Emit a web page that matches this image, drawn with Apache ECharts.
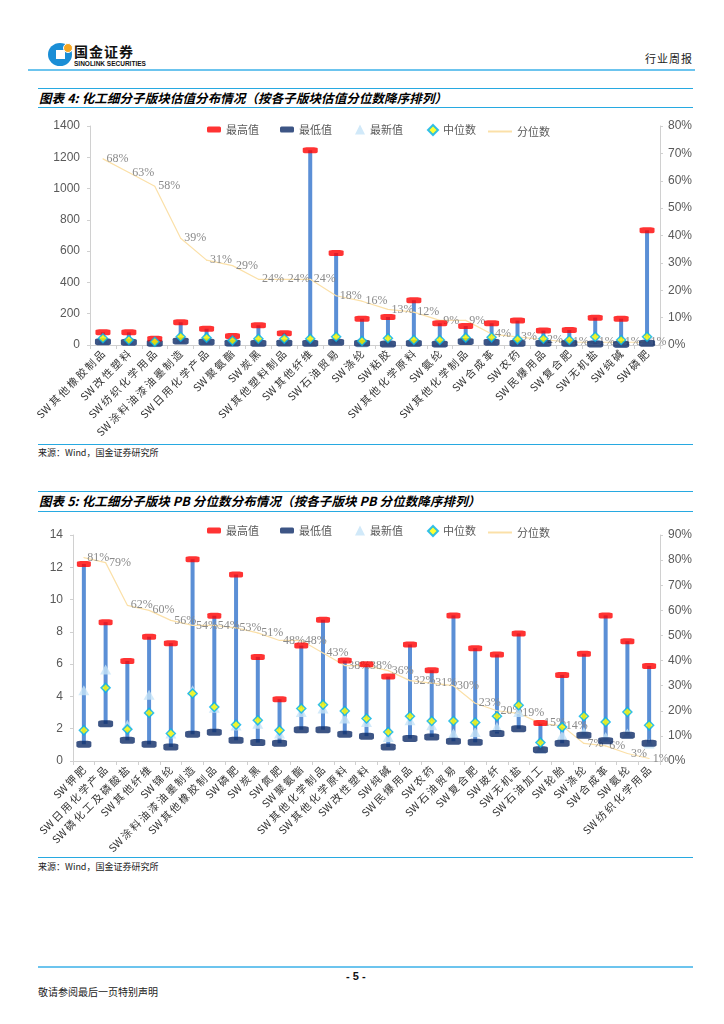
<!DOCTYPE html>
<html><head><meta charset="utf-8">
<script src="https://cdn.jsdelivr.net/npm/echarts@6/dist/echarts.min.js"></script>
<style>
html,body{margin:0;padding:0;background:#fff;}
#page{position:relative;width:724px;height:1024px;overflow:hidden;font-family:"Noto Sans CJK SC","Noto Sans",sans-serif;}
.abs{position:absolute;line-height:1;}
.hline{position:absolute;height:0;}
.title{position:absolute;left:39px;font-size:12.5px;line-height:19px;font-weight:bold;font-style:italic;color:#000;letter-spacing:0.1px;white-space:nowrap;}
.src{position:absolute;left:38px;font-size:9px;color:#222;white-space:nowrap;}
</style>
</head><body>
<div id="page">
  <!-- header -->
  <div class="abs" style="left:48px;top:43px;width:24px;height:23px;border-radius:50%;background:#1a8ed6;"></div>
  <div class="abs" style="left:56px;top:50px;width:9px;height:9px;background:#fff;"></div>
  <div class="abs" style="left:63px;top:43px;width:8px;height:8px;border-radius:50%;background:#f5a623;border:1px solid #fff;"></div>
  <div class="abs" style="left:74px;top:44px;font-size:14px;font-weight:bold;color:#111;letter-spacing:1px;">国金证券</div>
  <div class="abs" style="left:74px;top:60.5px;font-size:6.5px;font-weight:bold;color:#111;font-family:'Liberation Sans',Arial,sans-serif;">SINOLINK SECURITIES</div>
  <div class="abs" style="left:645px;top:53px;font-size:11px;color:#222;letter-spacing:1px;">行业周报</div>
  <div class="hline" style="left:28px;top:69px;width:667px;border-top:2px solid #6cc4ee;"></div>

  <!-- chart 1 title -->
  <div class="hline" style="left:38px;top:88px;width:655px;border-top:1.5px solid #27a9e1;"></div>
  <div class="title" style="top:88px;">图表 4: 化工细分子版块估值分布情况（按各子版块估值分位数降序排列）</div>
  <div class="hline" style="left:38px;top:107px;width:655px;border-top:1.5px solid #27a9e1;"></div>
  <div id="c1" class="abs" style="left:30px;top:115px;width:680px;height:328px;"></div>
  <div class="hline" style="left:38px;top:444px;width:655px;border-top:1.5px solid #27a9e1;"></div>
  <div class="src" style="top:446px;">来源：Wind，国金证券研究所</div>

  <!-- chart 2 title -->
  <div class="hline" style="left:38px;top:491px;width:655px;border-top:1.5px solid #27a9e1;"></div>
  <div class="title" style="top:491px;">图表 5: 化工细分子版块 PB 分位数分布情况（按各子版块 PB 分位数降序排列）</div>
  <div class="hline" style="left:38px;top:511px;width:655px;border-top:1.5px solid #27a9e1;"></div>
  <div id="c2" class="abs" style="left:30px;top:515px;width:680px;height:340px;"></div>
  <div class="hline" style="left:38px;top:857px;width:655px;border-top:1.5px solid #27a9e1;"></div>
  <div class="src" style="top:860px;">来源：Wind，国金证券研究所</div>

  <!-- footer -->
  <div class="hline" style="left:38px;top:966px;width:655px;border-top:2px solid #6cc4ee;"></div>
  <div class="abs" style="left:346px;top:971px;font-size:11px;font-weight:bold;color:#111;font-family:'Liberation Sans',Arial,sans-serif;">- 5 -</div>
  <div class="abs" style="left:38px;top:987px;font-size:10px;color:#222;">敬请参阅最后一页特别声明</div>
</div>
<script>
// ---------- Chart 1 data (PE valuation) ----------
var cats1 = ['SW其他橡胶制品','SW改性塑料','SW纺织化学用品','SW涂料油漆油墨制造','SW日用化学产品','SW聚氨酯','SW炭黑','SW其他塑料制品','SW其他纤维','SW石油贸易','SW涤纶','SW粘胶','SW其他化学原料','SW氨纶','SW其他化学制品','SW合成革','SW农药','SW民爆用品','SW复合肥','SW无机盐','SW纯碱','SW磷肥'];
var max1 = [81,81,40,145,104,58,126,75,1245,588,168,179,286,139,121,139,156,92,96,175,168,733];
var min1 = [21,17,11,26,19,13,11,13,11,17,11,6,11,6,23,17,11,11,11,6,4,11];
var last1 = [35,28,18,40,38,20,25,30,28,40,15,25,22,18,35,30,20,20,18,40,12,30];
var med1 = [43,32,21,53,47,28,40,40,40,53,26,43,32,32,47,49,36,40,32,53,32,53];
var pct1 = [68,63,58,39,31,29,24,24,24,18,16,13,12,9,9,4,3,2,1,1,1,1];
var leftTicks1 = {min:0,max:1400,interval:200};
var rightTicks1 = {min:0,max:80,interval:10};

// ---------- Chart 2 data (PB percentile) ----------
var cats2 = ['SW钾肥','SW日用化学产品','SW磷化工及磷酸盐','SW其他纤维','SW锦纶','SW涂料油漆油墨制造','SW其他橡胶制品','SW磷肥','SW炭黑','SW氮肥','SW聚氨酯','SW其他化学制品','SW其他化学原料','SW改性塑料','SW纯碱','SW民爆用品','SW农药','SW石油贸易','SW复合肥','SW玻纤','SW无机盐','SW石油加工','SW轮胎','SW涤纶','SW合成革','SW氨纶','SW纺织化学用品'];
var max2 = [12.2,8.6,6.2,7.7,7.3,12.5,9.0,11.55,6.45,3.83,7.15,8.75,6.22,6.0,5.23,7.22,5.62,9.02,6.99,6.6,7.9,2.36,5.33,6.64,9.02,7.42,5.89];
var min2 = [1.03,2.3,1.28,1.03,0.87,1.65,1.78,1.28,1.14,1.1,1.94,1.94,1.65,1.54,0.87,1.39,1.49,1.22,1.16,1.7,2.0,0.7,1.1,1.59,1.26,1.59,1.1];
var last2 = [4.38,5.67,2.25,4.1,1.7,4.38,3.3,2.2,2.3,1.7,3.04,3.25,2.63,2.42,1.49,2.52,2.21,1.7,1.8,2.1,3.04,0.77,1.59,1.8,1.49,1.7,1.08];
var med2 = [1.9,4.53,1.96,2.98,1.7,4.18,3.35,2.25,2.52,1.9,3.25,3.49,3.1,2.63,1.8,2.77,2.48,2.48,2.38,2.77,3.45,1.14,2.1,2.77,2.42,3.04,2.21];
var pct2 = [81,79,62,60,56,54,54,53,51,48,48,43,38,38,36,32,31,30,23,20,19,15,14,7,6,3,1];
var leftTicks2 = {min:0,max:14,interval:2};
var rightTicks2 = {min:0,max:90,interval:10};

var names = ['最高值','最低值','最新值','中位数','分位数'];

function spaced(s) {
  // widen spacing between the Chinese glyphs like the original report font
  var rest = s.replace(/^SW/, '');
  return 'SW\u2009' + rest.split('').join('\u2009');
}

function buildOption(cats, mx, mn, lt, md, pc, lt1, rt1, grid, legTop, markerW) {
  var range = mx.map(function(v,i){ return +(v - mn[i]).toFixed(3); });
  var legText = {color:'#595959', fontSize:11, fontFamily:'Noto Sans CJK SC'};
  function leg(name, left, w, h) {
    return {data:[name], left:left, top:legTop, itemWidth:w, itemHeight:h, itemGap:0, textStyle:legText, selectedMode:false};
  }
  var axisNum = {color:'#595959', fontSize:12, fontFamily:'Liberation Sans'};
  grid.containLabel = false;
  grid.outerBoundsMode = 'none';
  return {
    animation:false,
    legend:[
      leg(names[0], 172, 14, 6),
      leg(names[1], 245, 14, 6),
      leg(names[2], 320, 10, 10),
      leg(names[3], 392, 10, 10),
      {data:[{name:names[4], icon:'rect', itemStyle:{color:'#fbe0a8'}}], left:453, top:legTop+2, itemWidth:24, itemHeight:2, itemGap:0, textStyle:legText, selectedMode:false}
    ],
    grid:grid,
    xAxis:{type:'category', data:cats, boundaryGap:true,
      axisLine:{lineStyle:{color:'#d0d0d0'}},
      axisTick:{show:true, alignWithLabel:false, length:4, lineStyle:{color:'#d0d0d0'}},
      axisLabel:{interval:0, rotate:45, margin:7, color:'#333', fontSize:10.5, fontFamily:'Noto Sans CJK SC', formatter:spaced}},
    yAxis:[
      {type:'value', min:lt1.min, max:lt1.max, interval:lt1.interval, splitLine:{show:false},
        axisLine:{show:true, lineStyle:{color:'#d0d0d0'}}, axisTick:{show:true, length:3, lineStyle:{color:'#d0d0d0'}},
        axisLabel:Object.assign({margin:10, formatter:function(v){return String(v);}}, axisNum)},
      {type:'value', min:rt1.min, max:rt1.max, interval:rt1.interval, splitLine:{show:false}, position:'right',
        axisLine:{show:true, lineStyle:{color:'#d0d0d0'}}, axisTick:{show:true, length:3, lineStyle:{color:'#d0d0d0'}},
        axisLabel:Object.assign({margin:8, formatter:'{value}%'}, axisNum)}
    ],
    series:[
      {name:'base', type:'bar', stack:'r', data:mn, barWidth:4, itemStyle:{color:'rgba(0,0,0,0)'}, silent:true, z:1},
      {name:'range', type:'bar', stack:'r', data:range, barWidth:4, itemStyle:{color:'#5b8fd6'}, silent:true, z:1},
      {name:names[0], type:'scatter', data:mx, symbol:'roundRect', symbolSize:[markerW,6], itemStyle:{color:'#ff0000'}, z:5},
      {name:names[1], type:'scatter', data:mn, symbol:'roundRect', symbolSize:[markerW+1,7], itemStyle:{color:'#0d2a66'}, z:4},
      {name:names[2], type:'scatter', data:lt, symbol:'triangle', symbolSize:[11,10], itemStyle:{color:'#c6e4f7'}, z:3},
      {name:names[3], type:'scatter', data:md, symbol:'diamond', symbolSize:9, itemStyle:{color:'#ffff00', borderColor:'#00b0f0', borderWidth:1.5}, z:6},
      {name:names[4], type:'line', yAxisIndex:1, data:pc, symbol:'circle', symbolSize:1, smooth:false,
        lineStyle:{color:'#fbe0a8', width:1.2}, itemStyle:{color:'#fbe0a8'}, z:2,
        label:{show:true, position:'right', distance:3, formatter:'{c}%', color:'#8a8a8a', fontSize:12, fontFamily:'Liberation Serif'}}
    ]
  };
}

var c1 = echarts.init(document.getElementById('c1'));
c1.setOption(buildOption(cats1, max1, min1, last1, med1, pct1, leftTicks1, rightTicks1,
  {left:60, right:50, top:11, bottom:98}, 4, 15));
var c2 = echarts.init(document.getElementById('c2'));
c2.setOption(buildOption(cats2, max2, min2, last2, med2, pct2, leftTicks2, rightTicks2,
  {left:43, right:50, top:20, bottom:94}, 5, 14));
</script>
</body></html>
